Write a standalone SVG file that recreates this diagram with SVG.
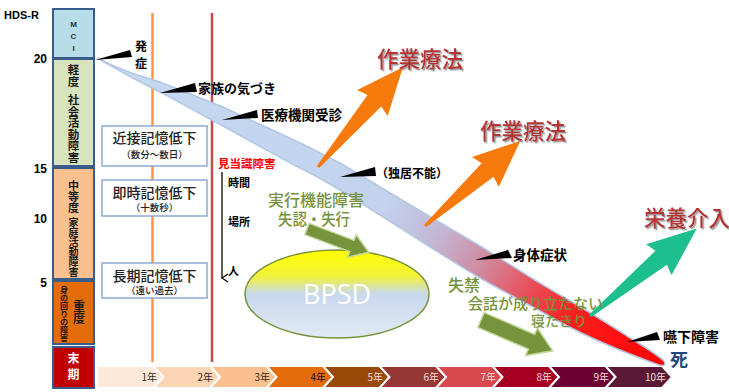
<svg xmlns="http://www.w3.org/2000/svg" width="729" height="392" viewBox="0 0 729 392">
<defs>
<style>
.lat{font-family:"Liberation Sans",Arial,sans-serif;font-weight:bold}
.col{stroke:#385d8a;stroke-width:2}
.ct{font-family:"Noto Sans CJK JP",sans-serif;font-weight:700;fill:#1a1a1a;writing-mode:vertical-rl}
.mk{font-family:"Noto Sans CJK JP",sans-serif;font-weight:700;fill:#000}
.wedge{fill:#000}
.mem{fill:#fff;stroke:#8eaad0;stroke-width:1.5}
.memt{font-family:"Noto Sans CJK JP",sans-serif;font-weight:500;text-anchor:middle;fill:#222}
.red{font-family:"Noto Sans CJK JP",sans-serif;font-weight:500;fill:#b73333;font-size:21.5px;filter:url(#ts)}
.olive{font-family:"Noto Sans CJK JP",sans-serif;font-weight:500;fill:#76923c}
.chev{stroke:#fff;stroke-width:2}
.yr{font-family:"Noto Sans CJK JP",sans-serif;font-size:10px;text-anchor:end}
</style>
<filter id="ts" x="-10%" y="-20%" width="130%" height="150%">
<feDropShadow dx="1.5" dy="1.5" stdDeviation="0.6" flood-color="#999"/>
</filter>
<linearGradient id="bandG" gradientUnits="userSpaceOnUse" x1="97" y1="58" x2="664" y2="362">
<stop offset="0" stop-color="#c6d9f1"/>
<stop offset="0.5" stop-color="#c3d3ee"/>
<stop offset="0.6" stop-color="#c4b5d5"/>
<stop offset="0.68" stop-color="#d08a9e"/>
<stop offset="0.76" stop-color="#e8505c"/>
<stop offset="0.84" stop-color="#ff1f1f"/>
<stop offset="1" stop-color="#ff0000"/>
</linearGradient>
<linearGradient id="ellG" x1="0" y1="0" x2="0" y2="1">
<stop offset="0" stop-color="#ffff00"/>
<stop offset="0.3" stop-color="#f2f23c"/>
<stop offset="0.5" stop-color="#c8d8ee"/>
<stop offset="1" stop-color="#e2eaf5"/>
</linearGradient>
<marker id="ah" markerWidth="10" markerHeight="10" refX="5" refY="8" orient="auto" markerUnits="userSpaceOnUse">
<path d="M1,2 L5,8 L9,2" fill="none" stroke="#000" stroke-width="1.2"/>
</marker>
</defs>
<rect width="729" height="392" fill="#fff"/>

<!-- axis labels -->
<g id="axis">
<text class="lat" x="4" y="19" font-size="11">HDS-R</text>
<text class="lat" x="47" y="63" font-size="12" text-anchor="end">20</text>
<text class="lat" x="47" y="173" font-size="12" text-anchor="end">15</text>
<text class="lat" x="47" y="223" font-size="12" text-anchor="end">10</text>
<text class="lat" x="47" y="287" font-size="12" text-anchor="end">5</text>
</g>

<!-- stage column -->
<g id="stage-mci">
<rect class="col" x="53" y="9" width="41" height="49" fill="#b7dee8"/>
<text class="lat" x="73.5" y="27" font-size="8" text-anchor="middle" fill="#333">M</text>
<text class="lat" x="73.5" y="39" font-size="8" text-anchor="middle" fill="#333">C</text>
<text class="lat" x="73.5" y="51" font-size="8" text-anchor="middle" fill="#333">I</text>
</g>
<g id="stage-mild">
<rect class="col" x="53" y="59" width="41" height="107" fill="#d7e4bd"/>
<text class="ct" x="73.5" y="64" font-size="11.5">軽度</text>
<text class="ct" x="73.5" y="94" font-size="11.5">社会活動障害</text>
</g>
<g id="stage-moderate">
<rect class="col" x="53" y="168" width="41" height="111" fill="#fac090"/>
<text class="ct" x="73.5" y="180" font-size="11">中等度</text>
<text class="ct" x="73.5" y="217" font-size="10">家庭活動障害</text>
</g>
<g id="stage-severe">
<rect class="col" x="53" y="281" width="41" height="63" fill="#e46c0a"/>
<text class="ct" x="64" y="286" font-size="8">身の回りの障害</text>
<text class="ct" x="79" y="300" font-size="12">重度</text>
</g>
<g id="stage-terminal">
<rect class="col" x="53" y="347" width="41" height="41" fill="#c00000"/>
<text class="ct" x="73.5" y="352" font-size="12" letter-spacing="4" style="fill:#fff">末期</text>
</g>

<!-- vertical guide lines -->
<g id="guides">
<line x1="152.5" y1="13" x2="152.5" y2="362" stroke="#f79646" stroke-width="2.5"/>
<line x1="212" y1="13" x2="212" y2="362" stroke="#c0504d" stroke-width="2.5"/>
</g>

<!-- memory boxes -->
<g id="mem-recent">
<rect class="mem" x="102" y="126" width="105" height="40"/>
<text class="memt" x="154.5" y="143" font-size="14">近接記憶低下<tspan x="154.5" y="158" font-size="9.5">（数分〜数日）</tspan></text>
</g>
<g id="mem-immediate">
<rect class="mem" x="102" y="180" width="105" height="36"/>
<text class="memt" x="154.5" y="198" font-size="14">即時記憶低下<tspan x="154.5" y="211" font-size="9.5">（十数秒）</tspan></text>
</g>
<g id="mem-long">
<rect class="mem" x="102" y="263" width="105" height="35"/>
<text class="memt" x="154.5" y="281" font-size="14">長期記憶低下<tspan x="154.5" y="294" font-size="9.5">（遠い過去）</tspan></text>
</g>

<!-- timeline chevrons -->
<g id="timeline">
<path class="chev" fill="#fde9d9" d="M97,366 L153.5,366 L163.5,377 L153.5,388 L97,388 Z"/>
<path class="chev" fill="#fcd5b4" d="M153.5,366 L210,366 L220,377 L210,388 L153.5,388 L163.5,377 Z"/>
<path class="chev" fill="#fac090" d="M210,366 L266.5,366 L276.5,377 L266.5,388 L210,388 L220,377 Z"/>
<path class="chev" fill="#e46c0a" d="M266.5,366 L323,366 L333,377 L323,388 L266.5,388 L276.5,377 Z"/>
<path class="chev" fill="#984807" d="M323,366 L379.5,366 L389.5,377 L379.5,388 L323,388 L333,377 Z"/>
<path class="chev" fill="#953735" d="M379.5,366 L436,366 L446,377 L436,388 L379.5,388 L389.5,377 Z"/>
<path class="chev" fill="#d9484d" d="M436,366 L492.5,366 L502.5,377 L492.5,388 L436,388 L446,377 Z"/>
<path class="chev" fill="#a50021" d="M492.5,366 L549,366 L559,377 L549,388 L492.5,388 L502.5,377 Z"/>
<path class="chev" fill="#6c0032" d="M549,366 L605.5,366 L615.5,377 L605.5,388 L549,388 L559,377 Z"/>
<path class="chev" fill="#5a1a35" d="M605.5,366 L662,366 L672,377 L662,388 L605.5,388 L615.5,377 Z"/>
<g class="yr">
<text x="157" y="381" fill="#3a2a20">1年</text>
<text x="213" y="381" fill="#3a2a20">2年</text>
<text x="270" y="381" fill="#3a2a20">3年</text>
<text x="326" y="381" fill="#111">4年</text>
<text x="383" y="381" fill="#f2dcdb">5年</text>
<text x="439" y="381" fill="#f2dcdb">6年</text>
<text x="496" y="381" fill="#f2dcdb">7年</text>
<text x="552" y="381" fill="#f2dcdb">8年</text>
<text x="609" y="381" fill="#f2dcdb">9年</text>
<text x="666" y="381" fill="#f2dcdb">10年</text>
</g>
</g>

<!-- BPSD -->
<g id="bpsd">
<ellipse cx="337" cy="294" rx="92" ry="44" fill="url(#ellG)" stroke="#77933c" stroke-width="1.5"/>
<text x="337" y="304" font-family="'Open Sans','Noto Sans',sans-serif" font-size="27" fill="#fff" text-anchor="middle">BPSD</text>
</g>

<!-- main progression band -->
<g id="band">
<path d="M97,58 C120,70 140,76 160,82 C185,92 205,100 223,107 C250,120 275,131 300,143 C315,150 328,157 340,163 C390,193 430,217 475,243 C505,261 530,278 560,295 C590,312 610,325 627,336 C645,347 658,355 664,361 Q667,367 659,365 C640,358 600,344 560,322 C530,305 500,290 475,275 C430,248 380,214 340,190 C325,181 315,175 300,168 C270,152 245,138 223,126 C200,114 180,102 160,92 C135,80 115,68 97,58 Z" fill="url(#bandG)" stroke="#b3c7e3" stroke-width="1.5"/>
</g>

<!-- disorientation -->
<g id="disorientation">
<text class="mk" x="218" y="168" font-size="11.5" style="fill:#ff0000">見当識障害</text>
<line x1="222" y1="172" x2="222" y2="278" stroke="#000" stroke-width="1.3" marker-end="url(#ah)"/>
<text class="mk" x="228" y="187" font-size="11">時間</text>
<text class="mk" x="228" y="226" font-size="11">場所</text>
<text class="mk" x="228" y="275" font-size="11">人</text>
</g>

<!-- connectors / arrows -->
<g id="connectors">
<path fill="#f77a0c" transform="translate(318,167) rotate(-49.6)" d="M0,-1.5 L87,-9 L84,-20 L131,0 L84,20 L87,9 L0,1.5 Z"/>
<path fill="#f77a0c" transform="translate(425,226) rotate(-41.8)" d="M0,-1.5 L84,-9 L81,-20 L128,0 L81,20 L84,9 L0,1.5 Z"/>
<path fill="#1dbf8e" transform="translate(590,316) rotate(-39.3)" d="M0,-1.5 L92,-9 L89,-20 L138,0 L89,20 L92,9 L0,1.5 Z"/>
<path fill="#77933c" stroke="#c3d69b" stroke-width="1.5" transform="translate(307,229) rotate(20.7)" d="M0,-6 L48,-6 L48,-12 L66,0 L48,12 L48,6 L0,6 Z"/>
<path fill="#77933c" stroke="#c3d69b" stroke-width="1.5" transform="translate(481,320) rotate(23.3)" d="M0,-8 L55,-8 L55,-15 L78,0 L55,15 L55,8 L0,8 Z"/>
</g>

<!-- event markers -->
<g id="ev-onset">
<polygon class="wedge" points="95,60 130,50 132,57"/>
<text class="mk" x="135" y="51" font-size="12">発</text>
<text class="mk" x="135" y="68" font-size="12">症</text>
</g>
<g id="ev-family">
<polygon class="wedge" points="160,93 195,83 197,92"/>
<text class="mk" x="198" y="93" font-size="13">家族の気づき</text>
</g>
<g id="ev-hospital">
<polygon class="wedge" points="222,120 257,110 258,118"/>
<text class="mk" x="261" y="120" font-size="13.5">医療機関受診</text>
</g>
<g id="ev-alone">
<polygon class="wedge" points="340,177 375,167 376,176"/>
<text class="mk" x="376" y="178" font-size="12">（独居不能）</text>
</g>
<g id="ev-physical">
<polygon class="wedge" points="475,260 508,250 512,258"/>
<text class="mk" x="513" y="260" font-size="13.5">身体症状</text>
</g>
<g id="ev-swallow">
<polygon class="wedge" points="627,342 657,332 660,340"/>
<text class="mk" x="663" y="342" font-size="14">嚥下障害</text>
</g>
<g id="ev-death">
<text class="mk" x="670" y="366" font-size="18" style="fill:#1f497d">死</text>
</g>

<!-- interventions -->
<g id="ot1"><text class="red" x="377" y="67">作業療法</text></g>
<g id="ot2"><text class="red" x="480" y="139">作業療法</text></g>
<g id="nutrition"><text class="red" x="644" y="226">栄養介入</text></g>

<!-- symptom labels -->
<g id="exec">
<text class="olive" x="268" y="206" font-size="16">実行機能障害<tspan x="278" y="225" textLength="72" lengthAdjust="spacingAndGlyphs">失認・失行</tspan></text>
</g>
<g id="late">
<text class="olive" x="448" y="291" font-size="16">失禁<tspan x="468" y="309" font-size="15">会話が成り立たない</tspan><tspan x="531" y="326" font-size="14">寝たきり</tspan></text>
</g>
</svg>
